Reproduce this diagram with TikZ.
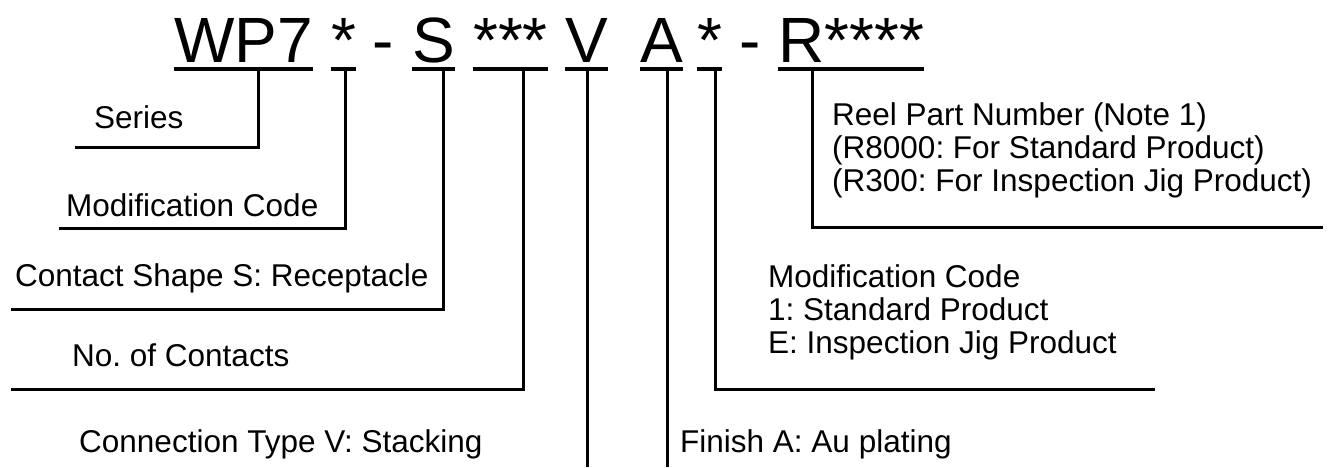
\documentclass[tikz,border=0pt]{standalone}
\usepackage{fontspec}
\setmainfont{Liberation Sans}
\frenchspacing
\usetikzlibrary{positioning,calc}

\tikzset{
  code/.style={font=\fontsize{64}{64}\selectfont, inner sep=0pt, anchor=base west},
  note/.style={font=\fontsize{31.5}{33}\selectfont, inner sep=0pt, anchor=base west, align=left},
  bar/.style={line width=3.4pt},
  lead/.style={line width=3pt, line join=miter},
}

\begin{document}
\begin{tikzpicture}[x=1pt,y=-1pt]
    \useasboundingbox (0,0) rectangle (1332,467);
    \coordinate (bottom) at (0,467);

    \node[code] (wp) at (174,62) {WP7}; % Series
    \node[code] (modA) at (331,62) {*};
    \node[code, anchor=base] (dashA) at (383,62) {-};
    \node[code] (shp) at (412,62) {S};
    \node[code] (cnt) at (473,62) {***};
    \node[code] (conn) at (565,62) {V};
    \node[code] (fin) at (640,62) {A};
    \node[code] (modB) at (697,62) {*};
    \node[code, anchor=base] (dashB) at (750,62) {-};
    \node[code] (reel) at (778,62) {R****};

    \foreach \n in {wp,modA,shp,cnt,conn,fin,modB,reel}
        \draw[bar] ([yshift=-7pt]\n.base west) -- ([yshift=-7pt]\n.base east); % Underlines

    \node[note] (lblSeries) at (94,128) {Series};
    \coordinate (endSeries) at (75,147);
    \draw[lead] ([xshift=84pt,yshift=-7pt]wp.base west) |- (endSeries);

    \node[note] (lblModA) at (66,216) {Modification Code};
    \coordinate (endModA) at (59,228);
    \draw[lead] ([xshift=14pt,yshift=-7pt]modA.base west) |- (endModA);

    \node[note] (lblShape) at (15,286) {Contact Shape S: Receptacle};
    \coordinate (endShape) at (11,309);
    \draw[lead] ([xshift=31pt,yshift=-7pt]shp.base west) |- (endShape);

    \node[note] (lblCount) at (72,366) {No. of Contacts};
    \coordinate (endCount) at (11,389);
    \draw[lead] ([xshift=50pt,yshift=-7pt]cnt.base west) |- (endCount);

    \node[note] (lblConn) at (79,452) {Connection Type V: Stacking};
    \draw[lead] ([xshift=22pt,yshift=-7pt]conn.base west) -- ([xshift=22pt]conn.base west |- bottom);

    \node[note] (lblFinish) at (680,452) {Finish A: Au plating};
    \draw[lead] ([xshift=27pt,yshift=-7pt]fin.base west) -- ([xshift=27pt]fin.base west |- bottom);

    \node[note] (lblModB) at (768,353) {Modification Code\\1: Standard Product\\E: Inspection Jig Product}; % base = last line
    \coordinate (endModB) at (1155,389);
    \draw[lead] ([xshift=18pt,yshift=-7pt]modB.base west) |- (endModB);

    \node[note] (lblReel) at (832,191) {Reel Part Number (Note 1)\\(R8000: For Standard Product)\\(R300: For Inspection Jig Product)};
    \coordinate (endReel) at (1323,227);
    \draw[lead] ([xshift=34pt,yshift=-7pt]reel.base west) |- (endReel);
\end{tikzpicture}
\end{document}
